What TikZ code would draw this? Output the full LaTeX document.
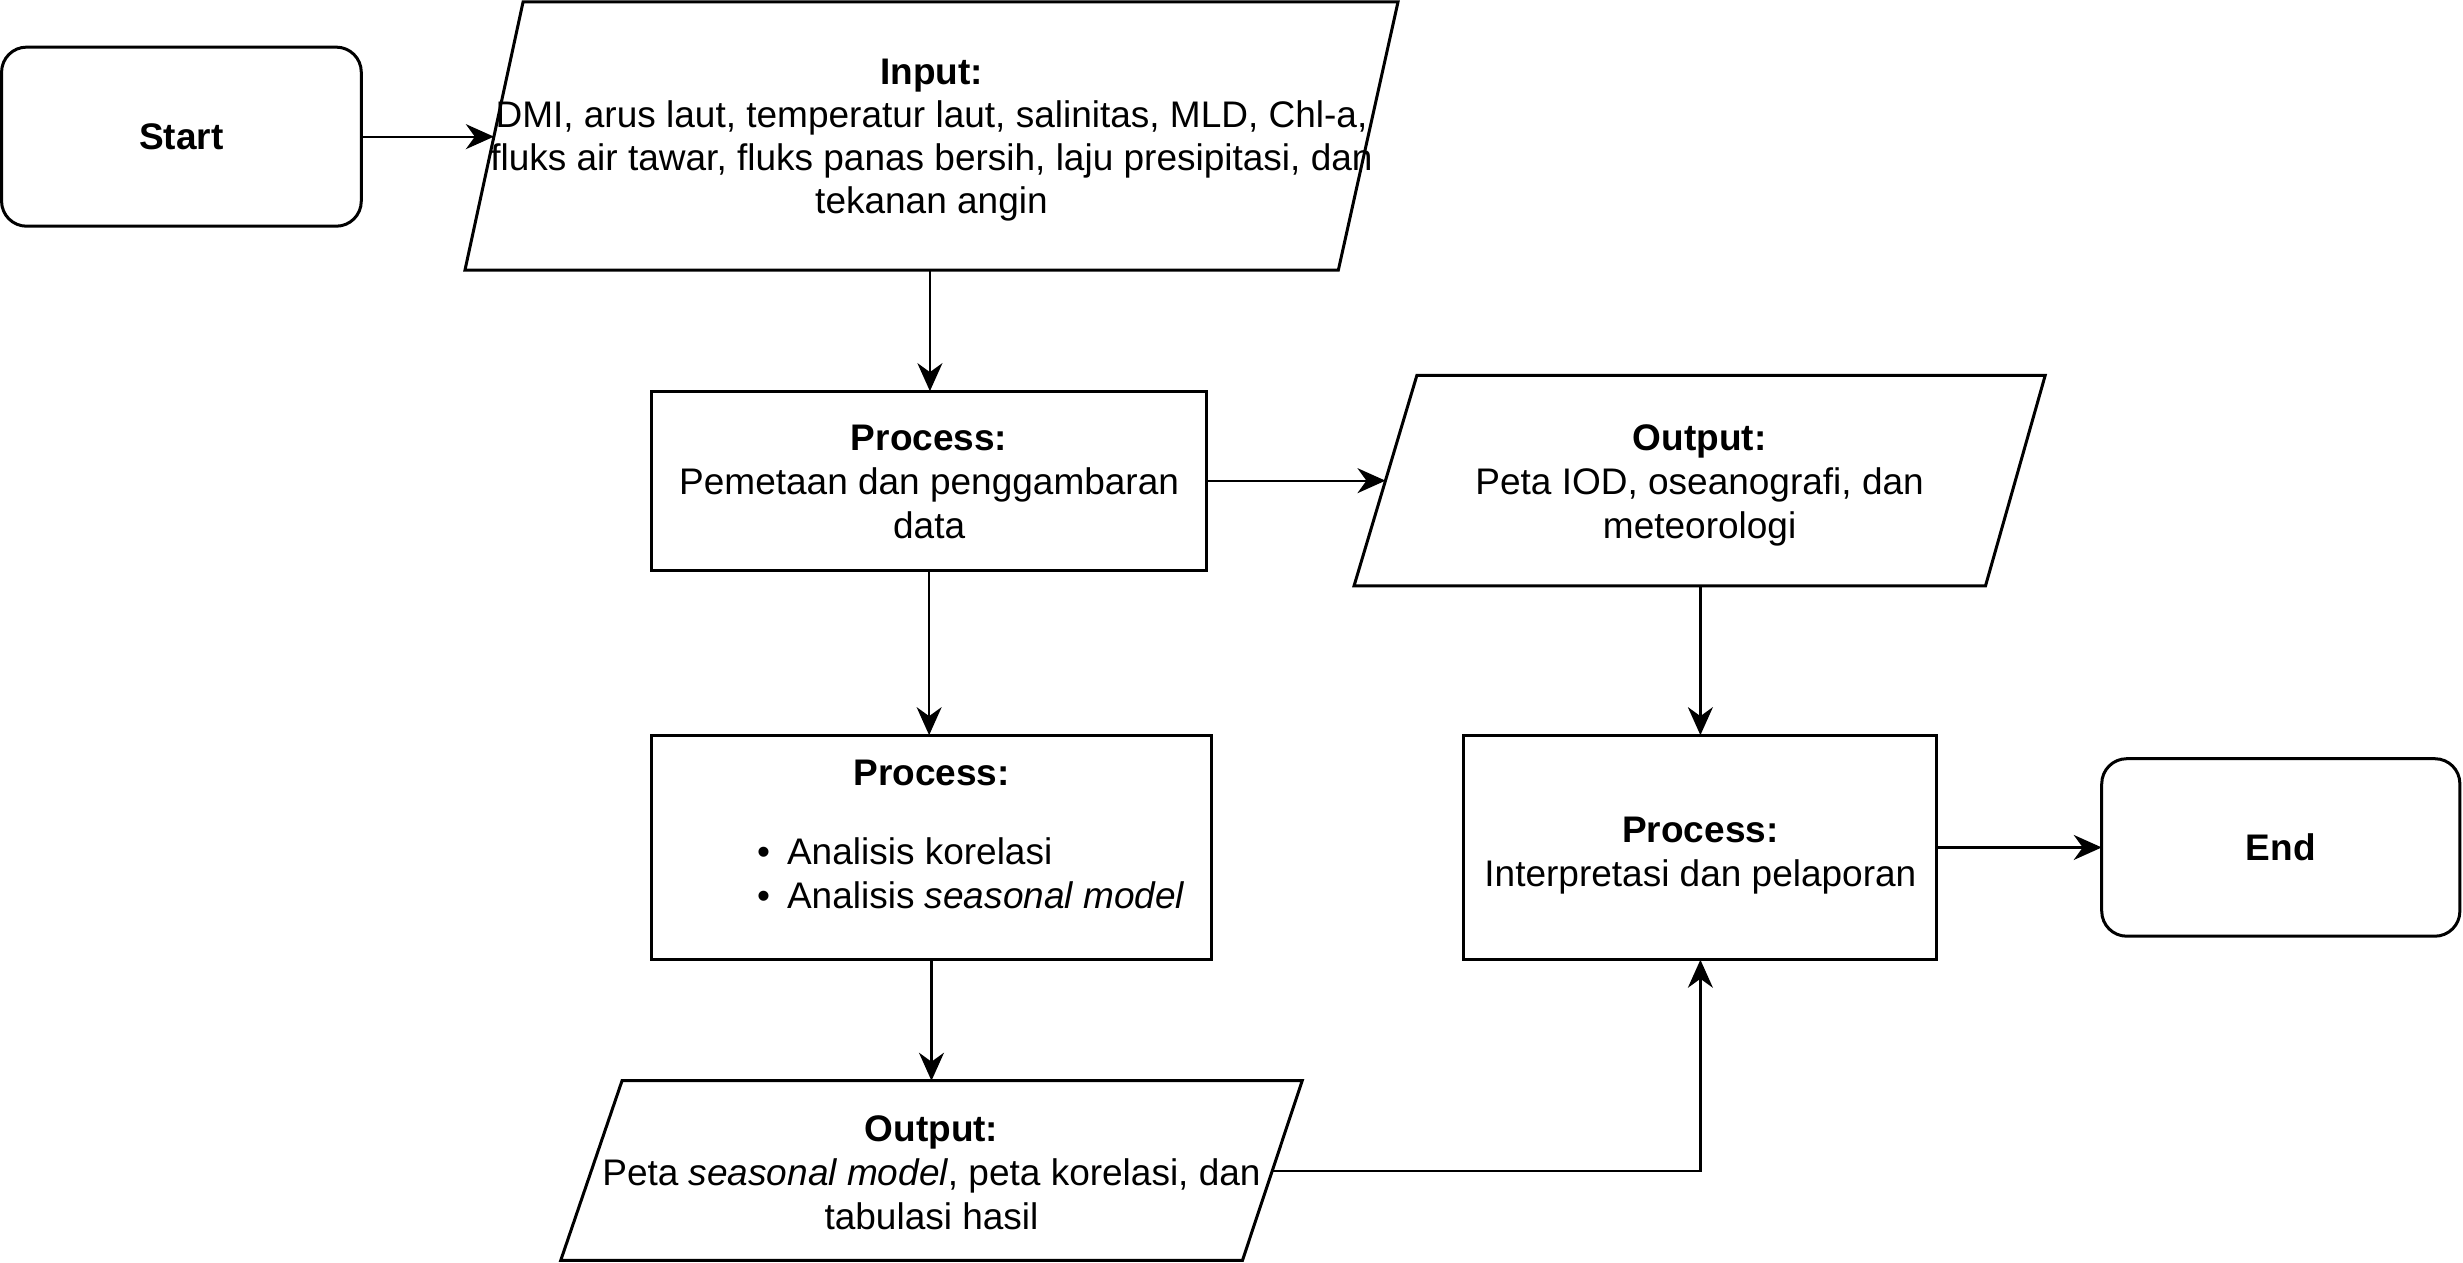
\documentclass[tikz,border=0pt]{standalone}
\usepackage{fontspec}
\setmainfont{Liberation Sans}
\usetikzlibrary{arrows.meta,calc}
\newcommand{\sunit}{1.5708pt}
\begin{document}
\begin{tikzpicture}[x=1.5708pt,y=-1.5708pt,
  every node/.style={font=\fontsize{37}{44}\selectfont, inner sep=0pt, outer sep=0pt},
  shapeline/.style={line width=3pt, line join=miter},
  procbox/.style={draw, line width=3pt, rectangle, align=center},
  termbox/.style={draw, line width=3pt, rounded corners=25pt, align=center, font=\fontsize{37}{44}\selectfont\bfseries},
  txt/.style={align=center},
  conn/.style={line width=2.2pt, -{Stealth[length=28pt,width=25pt,inset=9pt]}},
  ]
\useasboundingbox (0,0) rectangle (1568,804);

% terminals
\node[termbox, minimum width=229*\sunit, minimum height=114*\sunit] (start) at (115.5,87) {Start};
\node[termbox, minimum width=228*\sunit, minimum height=113*\sunit] (end) at (1452,539.5) {End};

% input parallelogram
\draw[shapeline] (333,1.2) -- (890,1.2) -- (852,172) -- (296,172) -- cycle;
\node[txt, font=\fontsize{37}{43}\selectfont] (input) at (593,89) {\textbf{Input:}\\DMI, arus laut, temperatur laut, salinitas, MLD, Chl-a,\\fluks air tawar, fluks panas bersih, laju presipitasi, dan\\tekanan angin};

% process 1 (box and its text)
\node[procbox, minimum width=353*\sunit, minimum height=114*\sunit] (p1) at (591.5,306) {};
\node[txt] (p1t) at (591.5,307) {\textbf{Process:}\\Pemetaan dan penggambaran\\data};

% output 1 parallelogram
\draw[shapeline] (902,239) -- (1302,239) -- (1264,373) -- (862,373) -- cycle;
\node[txt] (o1) at (1082,309) {\textbf{Output:}\\Peta IOD, oseanografi, dan\\meteorologi};

% process 2
\node[procbox, minimum width=356*\sunit, minimum height=143*\sunit] (p2) at (593,539.5) {};
\node (p2h) at (593,492) {\textbf{Process:}};
\node[anchor=west] (p2l) at (482,558.5) {\begin{tabular}{@{}l@{}}\textbullet\hspace{17pt}Analisis korelasi\\\textbullet\hspace{17pt}Analisis \textit{seasonal model}\end{tabular}};

% process 3
\node[procbox, minimum width=301*\sunit, minimum height=143*\sunit] (p3) at (1082.5,539.5) {};
\node[txt] (p3t) at (1082.5,544.5) {\textbf{Process:}\\Interpretasi dan pelaporan};

% output 2 parallelogram
\draw[shapeline] (396,688) -- (829,688) -- (791,802.3) -- (357,802.3) -- cycle;
\node[txt] (o2) at (593,746.5) {\textbf{Output:}\\Peta \textit{seasonal model}, peta korelasi, dan\\tabulasi hasil};

% connector end points on slanted edges
\coordinate (inL) at (314.4,87);
\coordinate (inB) at (592,172);
\coordinate (o1L) at (882,306);
\coordinate (o1B) at (1082.5,373);
\coordinate (o2T) at (593,688);
\coordinate (o2R) at (810,745.5);

% connectors
\draw[conn] (start.east) -- (inL);
\draw[conn] (inB) -- (inB |- p1.north);
\draw[conn] (p1.east) -- (o1L);
\draw[conn] (o1B) -- (p3.north);
\draw[conn] (p1.south) -- (p1.south |- p2.north);
\draw[conn] (p2.south) -- (o2T);
\draw[conn] (p3.east) -- (end.west);
\draw[conn] (o2R) -| (p3.south);
\end{tikzpicture}
\end{document}
